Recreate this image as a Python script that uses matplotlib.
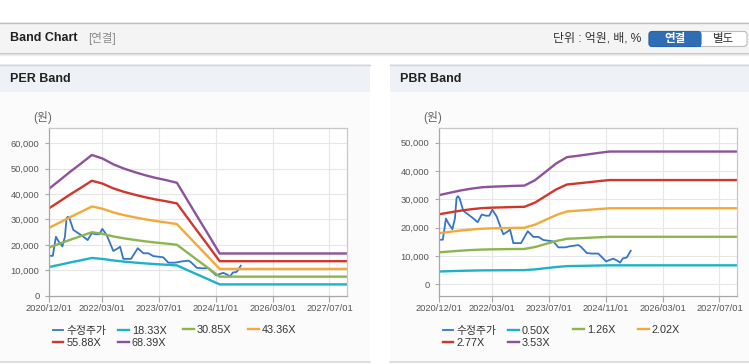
import pandas as pd
import matplotlib
matplotlib.use("Agg")
import matplotlib.pyplot as plt
from matplotlib.patches import Rectangle, FancyBboxPatch
from matplotlib.ticker import FuncFormatter

plt.rcParams['font.family'] = ['Liberation Sans', 'Noto Sans CJK KR']

W, H = 749, 364

# --- data ---
band_dates = pd.to_datetime([
    "2020-12-01", "2021-03-01", "2021-06-01", "2021-09-01", "2021-12-01",
    "2022-03-01", "2022-06-01", "2022-09-01", "2022-12-01", "2023-03-01",
    "2023-06-01", "2023-09-01", "2023-12-01", "2024-03-01", "2024-06-01",
    "2024-09-01", "2024-12-01", "2027-12-01"])

per_1833 = [11310, 12190, 13110, 13970, 14850, 14480, 13880, 13420, 13050, 12720,
            12430, 12190, 11920, 10050, 8180, 6320, 4450, 4450]
per_3085 = [19030, 20520, 22060, 23510, 24990, 24370, 23350, 22580, 21970, 21410,
            20920, 20520, 20050, 16910, 13760, 10640, 7500, 7500]
per_4336 = [26750, 28830, 31000, 33040, 35120, 34250, 32820, 31740, 30870, 30090,
            29400, 28830, 28180, 23760, 19340, 14960, 10540, 10540]
per_5588 = [34480, 37160, 39950, 42580, 45260, 44150, 42300, 40900, 39790, 38780,
            37890, 37160, 36320, 30620, 24920, 19280, 13580, 13580]
per_6839 = [42200, 45480, 48900, 52110, 55400, 54030, 51770, 50060, 48690, 47460,
            46370, 45480, 44450, 37480, 30500, 23600, 16620, 16620]

pbr_050 = [4460, 4580, 4690, 4780, 4850, 4880, 4900, 4920, 4940, 5200,
           5630, 6050, 6360, 6430, 6500, 6580, 6640, 6640]
pbr_126 = [11240, 11530, 11820, 12050, 12220, 12300, 12350, 12400, 12440, 13100,
           14180, 15250, 16030, 16190, 16380, 16570, 16730, 16730]
pbr_202 = [18020, 18480, 18950, 19310, 19590, 19720, 19800, 19880, 19940, 21010,
           22730, 24440, 25690, 25960, 26260, 26560, 26830, 26830]
pbr_277 = [24710, 25350, 25980, 26480, 26870, 27040, 27150, 27260, 27340, 28810,
           31160, 33520, 35230, 35600, 36010, 36430, 36790, 36790]
pbr_353 = [31490, 32300, 33110, 33750, 34240, 34450, 34590, 34740, 34840, 36710,
           39710, 42710, 44900, 45360, 45890, 46420, 46880, 46880]

price_dates = pd.to_datetime([
    "2020-12-01", "2020-12-31", "2021-01-27", "2021-02-17", "2021-03-23",
    "2021-04-14", "2021-04-28", "2021-05-10", "2021-05-24", "2021-06-25",
    "2021-08-07", "2021-09-19", "2021-10-26", "2021-11-30", "2022-01-05",
    "2022-02-03", "2022-03-01", "2022-04-07", "2022-06-03", "2022-07-14",
    "2022-07-31", "2022-08-28", "2022-11-02", "2022-12-30", "2023-02-16",
    "2023-03-31", "2023-05-12", "2023-08-06", "2023-09-18", "2023-11-15",
    "2023-12-28", "2024-03-08", "2024-03-30", "2024-05-19", "2024-07-01",
    "2024-08-26", "2024-11-01", "2024-11-29", "2025-01-02", "2025-01-31",
    "2025-03-01", "2025-03-24", "2025-04-27", "2025-05-31"])
price = [15700, 15700, 23200, 21500, 19400, 23200, 30500, 31100, 30300, 25900,
         24600, 23200, 21900, 24600, 24200, 24200, 26300, 23900, 17600, 18700,
         19300, 14500, 14500, 18700, 16700, 16700, 15600, 15100, 13000, 13000,
         13400, 13800, 13200, 11000, 10800, 10800, 8000, 8500, 9000, 8400,
         7600, 9100, 9400, 11800]

per_labels = ["18.33X", "30.85X", "43.36X", "55.88X", "68.39X"]
pbr_labels = ["0.50X", "1.26X", "2.02X", "2.77X", "3.53X"]
price_label = "수정주가"

xtick_dates = ["2020-12-01", "2022-03-01", "2023-07-01", "2024-11-01", "2026-03-01", "2027-07-01"]
xtick_labels = [d.replace("-", "/") for d in xtick_dates]

price_color = "#3575c6"
band_colors = ["#1bb3c5", "#8db54e", "#f3a93a", "#d0372c", "#8e519b"]


def px(x, y):
    return x / W, 1 - y / H


fig = plt.figure(figsize=(W / 100, H / 100), dpi=100)
fig.patch.set_facecolor("white")

# --- page background (pixel coordinates) ---
bg = fig.add_axes([0, 0, 1, 1], zorder=-5)
bg.set_xlim(0, W)
bg.set_ylim(H, 0)
bg.axis("off")

bg.add_patch(Rectangle((0, 22), W, 30, facecolor="#f4f4f4", edgecolor="none"))
bg.plot([0, W], [22.5, 22.5], color="#bdbdbd", lw=1)
bg.plot([0, W], [52.5, 52.5], color="#c4c4c4", lw=1)
bg.plot([0, W], [53.5, 53.5], color="#dedede", lw=1)
bg.plot([0, W], [54.5, 54.5], color="#eeeeee", lw=1)

bg.text(10, 38, "Band Chart", fontsize=9, fontweight="bold", color="#222", va="center")
bg.text(88, 38.5, "[연결]", fontsize=8.3, color="#8a8a8a", va="center")
bg.text(553, 38.5, "단위 : 억원, 배, %", fontsize=8.6, color="#333", va="center")

bg.add_patch(FancyBboxPatch((649, 31.5), 98, 15, boxstyle="round,pad=0,rounding_size=3",
                            facecolor="white", edgecolor="#bdbdbd", lw=0.8))
bg.add_patch(FancyBboxPatch((649, 31.5), 52, 15, boxstyle="round,pad=0,rounding_size=3",
                            facecolor="#2f6db5", edgecolor="#2a63a6", lw=0.8))
bg.add_patch(Rectangle((696, 31.5), 5, 15, facecolor="#2f6db5", edgecolor="none"))
bg.text(675, 39.3, "연결", fontsize=8.3, fontweight="bold", color="white", ha="center", va="center")
bg.text(724, 39.3, "별도", fontsize=8.3, color="#333", ha="center", va="center")

for x0, x1, title in [(0, 370, "PER Band"), (390, W, "PBR Band")]:
    bg.add_patch(Rectangle((x0, 64), x1 - x0, 28, facecolor="#eef1f6", edgecolor="none"))
    bg.add_patch(Rectangle((x0, 92), x1 - x0, 270, facecolor="#fbfbfb", edgecolor="none"))
    bg.plot([x0, x1], [64.5, 64.5], color="#d4d4d4", lw=1)
    bg.plot([x0, x1], [362, 362], color="#d8d8d8", lw=1.2)
    bg.text(x0 + 10, 79, title, fontsize=9, fontweight="bold", color="#222", va="center")


def draw_panel(left, bands, labels, ylim, yticks):
    ax = fig.add_axes([left / W, 1 - 295.7 / H, 298 / W, (295.7 - 128.3) / H])
    ax.set_facecolor("white")
    handles = []
    h, = ax.plot(price_dates, price, color=price_color, lw=1.3)
    handles.append(h)
    for vals, c in zip(bands, band_colors):
        h, = ax.plot(band_dates, vals, color=c, lw=1.7)
        handles.append(h)

    ax.set_xlim(pd.Timestamp("2020-12-01"), pd.Timestamp("2027-12-01"))
    ax.set_xticks(pd.to_datetime(xtick_dates))
    ax.set_xticklabels(xtick_labels)
    ax.set_ylim(*ylim)
    ax.set_yticks(yticks)
    ax.yaxis.set_major_formatter(FuncFormatter(lambda v, p: f"{int(v):,}"))
    ax.grid(color="#e6e6e6", lw=0.8)
    ax.set_axisbelow(True)
    for s in ["left", "bottom"]:
        ax.spines[s].set_color("#a8a8a8")
        ax.spines[s].set_linewidth(0.9)
    for s in ["top", "right"]:
        ax.spines[s].set_color("#c8c8c8")
        ax.spines[s].set_linewidth(0.9)
    ax.tick_params(axis="y", length=3, width=0.8, color="#a8a8a8", pad=4,
                   labelsize=6.7, labelcolor="#555")
    ax.tick_params(axis="x", length=4, width=0.8, color="#a8a8a8", pad=2,
                   labelsize=6.7, labelcolor="#555")

    fig.text(*px(left - 6.5, 118), "(원)", fontsize=8.5, color="#666", ha="center", va="center")

    # legend laid out in rows like the original
    names = [price_label] + labels
    cols = [[0, 4], [1, 5], [2], [3]]
    offs = [3.3, 68.5, 133.5, 198.5]
    for idx, off in zip(cols, offs):
        yc = 336.7 if len(idx) == 2 else 330
        leg = ax.legend([handles[i] for i in idx], [names[i] for i in idx],
                        loc="center left", bbox_to_anchor=px(left + off, yc),
                        bbox_transform=fig.transFigure, frameon=False,
                        borderpad=0, borderaxespad=0, handlelength=1.0,
                        handletextpad=0.3, labelspacing=0.2, fontsize=7.8,
                        labelcolor="#333")
        ax.add_artist(leg)
    ax.legend_ = None
    return ax


draw_panel(49.3, [per_1833, per_3085, per_4336, per_5588, per_6839], per_labels,
           (0, 65900), [0, 10000, 20000, 30000, 40000, 50000, 60000])
draw_panel(439.3, [pbr_050, pbr_126, pbr_202, pbr_277, pbr_353], pbr_labels,
           (-4100, 55100), [0, 10000, 20000, 30000, 40000, 50000])

fig.savefig("out.png", dpi=100)
